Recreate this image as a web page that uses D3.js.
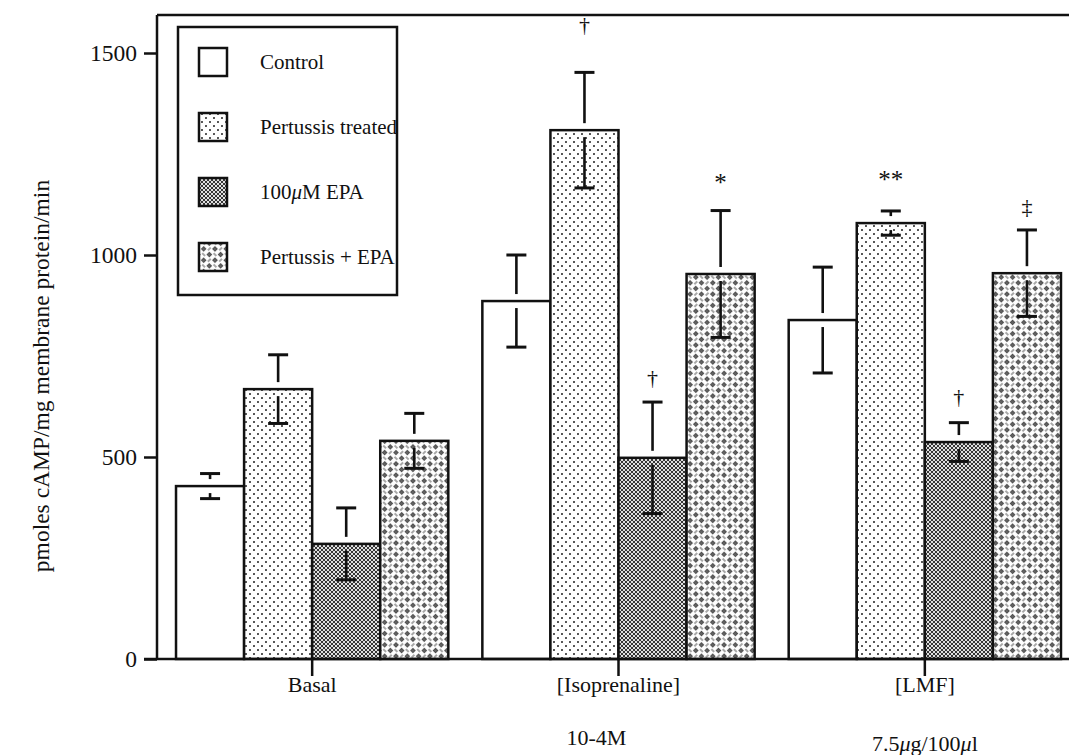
<!DOCTYPE html>
<html>
<head>
<meta charset="utf-8">
<script src="https://cdn.jsdelivr.net/npm/d3@7"></script>
<style>
  html, body { margin: 0; padding: 0; background: #fff; }
  svg { display: block; }
  text { font-family: "Liberation Serif", "Times New Roman", serif; fill: #111; }
</style>
</head>
<body>
<svg id="chart" width="1069" height="755"></svg>
<script>
// ---- data ----
const groups = ["Basal", "[Isoprenaline]", "[LMF]"];
const groupSub = ["", "10-4M", "7.5\u03bcg/100\u03bcl"];
const series = ["Control", "Pertussis treated", "100\u03bcM EPA", "Pertussis + EPA"];
const controlMean   = [428, 886, 839];
const pertussisMean = [668, 1309, 1079];
const epaMean       = [285, 498, 537];
const pertEpaMean   = [540, 953, 955];
const controlSE     = [31, 114, 131];
const pertussisSE   = [85, 143, 30];
const epaSE         = [89, 138, 48];
const pertEpaSE     = [68, 157, 107];
const yTicks = [0, 500, 1000, 1500];
const yLabel = "pmoles cAMP/mg membrane protein/min";
// significance marks: [group index, series index, symbol]
const marks = [
  [1, 1, "\u2020"], [1, 2, "\u2020"], [1, 3, "*"],
  [2, 1, "**"], [2, 2, "\u2020"], [2, 3, "\u2021"]
];

const means = [controlMean, pertussisMean, epaMean, pertEpaMean];
const ses = [controlSE, pertussisSE, epaSE, pertEpaSE];

const svg = d3.select("#chart");
const defs = svg.append("defs");

// dotted pattern (Pertussis treated)
const pDots = defs.append("pattern").attr("id", "dots")
  .attr("patternUnits", "userSpaceOnUse").attr("width", 8).attr("height", 8);
pDots.append("rect").attr("width", 8).attr("height", 8).attr("fill", "#fff");
pDots.append("circle").attr("cx", 2).attr("cy", 2).attr("r", 0.95).attr("fill", "#111");
pDots.append("circle").attr("cx", 6).attr("cy", 6).attr("r", 0.95).attr("fill", "#111");

// fine crosshatch (EPA)
const pHatch = defs.append("pattern").attr("id", "hatch")
  .attr("patternUnits", "userSpaceOnUse").attr("width", 4).attr("height", 4);
pHatch.append("rect").attr("width", 4).attr("height", 4).attr("fill", "#e0e0e0");
pHatch.append("path").attr("d", "M0,0 L4,4 M4,0 L0,4 M-1,3 L1,5 M3,-1 L5,1 M-1,1 L1,-1 M3,5 L5,3")
  .attr("stroke", "#222").attr("stroke-width", 0.9);

// basket weave (Pertussis + EPA)
const pWeave = defs.append("pattern").attr("id", "weave")
  .attr("patternUnits", "userSpaceOnUse").attr("width", 16).attr("height", 16)
  .attr("patternTransform", "rotate(45)");
pWeave.append("rect").attr("width", 16).attr("height", 16).attr("fill", "#fff");
[[0, 0], [8, 8]].forEach(([cx, cy]) => {
  pWeave.append("path").attr("d", `M${cx + 2},${cy + 4} L${cx + 6},${cy + 4}`)
    .attr("stroke", "#222").attr("stroke-width", 0.8);
});
[[8, 0], [0, 8]].forEach(([cx, cy]) => {
  pWeave.append("path").attr("d", `M${cx + 4},${cy + 2} L${cx + 4},${cy + 6}`)
    .attr("stroke", "#222").attr("stroke-width", 0.8);
});
[0, 8, 16].forEach(a => [0, 8, 16].forEach(b => {
  pWeave.append("rect").attr("x", a - 1.8).attr("y", b - 1.8).attr("width", 3.6).attr("height", 3.6)
    .attr("fill", "#4a4a4a").attr("stroke", "#333").attr("stroke-width", 0.5);
  pWeave.append("circle").attr("cx", a).attr("cy", b).attr("r", 0.6).attr("fill", "#bbb");
}));

const fills = ["#fff", "url(#dots)", "url(#hatch)", "url(#weave)"];

// ---- scales ----
const axisX = 157, axisY = 659, topY = 15;
const y = d3.scaleLinear().domain([0, 1500]).range([axisY, 53]);
const x0 = d3.scaleBand().domain(groups).range([159, 1078]).padding(0);
const x1 = d3.scaleBand().domain(series).range([0, x0.bandwidth()]).paddingInner(0).paddingOuter(0.25);

// ---- bars ----
const barData = [];
groups.forEach((g, gi) => series.forEach((s, si) => {
  barData.push({ g, gi, s, si, v: means[si][gi], e: ses[si][gi] });
}));

const gBars = svg.append("g");
gBars.selectAll("rect").data(barData).enter().append("rect")
  .attr("x", d => x0(d.g) + x1(d.s))
  .attr("y", d => y(d.v))
  .attr("width", x1.bandwidth())
  .attr("height", d => y(0) - y(d.v))
  .attr("fill", d => fills[d.si])
  .attr("stroke", "#111").attr("stroke-width", 2.5);

// ---- error bars ----
const gap = 7, capW = 20;
const gErr = svg.append("g").attr("stroke", "#111");
barData.forEach(d => {
  const cx = x0(d.g) + x1(d.s) + x1.bandwidth() / 2;
  const yt = y(d.v + d.e), yb = y(d.v - d.e), ym = y(d.v);
  if (ym - gap > yt) gErr.append("line").attr("x1", cx).attr("x2", cx).attr("y1", yt).attr("y2", ym - gap).attr("stroke-width", 2.6);
  if (ym + gap < yb) gErr.append("line").attr("x1", cx).attr("x2", cx).attr("y1", ym + gap).attr("y2", yb).attr("stroke-width", 2.6);
  gErr.append("line").attr("x1", cx - capW / 2).attr("x2", cx + capW / 2).attr("y1", yt).attr("y2", yt).attr("stroke-width", 3);
  gErr.append("line").attr("x1", cx - capW / 2).attr("x2", cx + capW / 2).attr("y1", yb).attr("y2", yb).attr("stroke-width", 3);
});

// ---- significance marks ----
const markLift = [40, 17, 20, 23, 19, 16];
svg.append("g").selectAll("text").data(marks).enter().append("text")
  .attr("x", d => x0(groups[d[0]]) + x1(series[d[1]]) + x1.bandwidth() / 2)
  .attr("y", (d, i) => y(means[d[1]][d[0]] + ses[d[1]][d[0]]) - markLift[i])
  .attr("text-anchor", "middle")
  .attr("font-size", d => d[2].indexOf("*") >= 0 ? 25 : 22)
  .attr("fill", "#000")
  .text(d => d[2]);

// ---- axes ----
const yAxis = d3.axisLeft(y).tickValues(yTicks).tickSize(13).tickPadding(7).tickFormat(d3.format("d"));
const gy = svg.append("g").attr("transform", `translate(${axisX},0)`).call(yAxis);
gy.select(".domain").remove();
gy.selectAll(".tick line").attr("stroke", "#111").attr("stroke-width", 2.5);
gy.selectAll(".tick text").attr("font-size", 23.5).attr("font-family", "Liberation Serif, serif").attr("fill", "#111");

const xAxis = d3.axisBottom(x0).tickSize(17).tickFormat("");
const gx = svg.append("g").attr("transform", `translate(0,${axisY})`).call(xAxis);
gx.select(".domain").remove();
gx.selectAll(".tick line").attr("stroke", "#111").attr("stroke-width", 2.5);

// axis lines and top frame
svg.append("line").attr("x1", axisX).attr("x2", axisX).attr("y1", topY).attr("y2", axisY + 1)
  .attr("stroke", "#111").attr("stroke-width", 2.5);
svg.append("line").attr("x1", axisX - 13).attr("x2", 1069).attr("y1", axisY).attr("y2", axisY)
  .attr("stroke", "#111").attr("stroke-width", 2.5);
svg.append("line").attr("x1", axisX).attr("x2", 1069).attr("y1", topY).attr("y2", topY)
  .attr("stroke", "#111").attr("stroke-width", 2.5);

// category labels
svg.append("g").selectAll("text").data(groups).enter().append("text")
  .attr("x", d => x0(d) + x0.bandwidth() / 2)
  .attr("y", 692)
  .attr("text-anchor", "middle").attr("font-size", 22)
  .text(d => d);
const subs = svg.append("g").selectAll("text").data(groupSub).enter().append("text")
  .attr("x", (d, i) => x0(groups[i]) + x0.bandwidth() / 2 - (i === 1 ? 22 : 0))
  .attr("y", (d, i) => i === 1 ? 745 : 751)
  .attr("text-anchor", "middle").attr("font-size", 22);
subs.each(function (d) {
  const t = d3.select(this);
  d.split(/(\u03bc)/).forEach(p => {
    if (!p) return;
    const ts = t.append("tspan").text(p);
    if (p === "\u03bc") ts.attr("font-style", "italic");
  });
});

// y label
svg.append("text")
  .attr("transform", "translate(49,376) rotate(-90)")
  .attr("text-anchor", "middle").attr("font-size", 23.5)
  .text(yLabel);

// ---- legend ----
const lg = svg.append("g");
lg.append("rect").attr("x", 178).attr("y", 27).attr("width", 219).attr("height", 268)
  .attr("fill", "#fff").attr("stroke", "#111").attr("stroke-width", 2.5);
const legY = d3.scalePoint().domain(series).range([62, 257]);
series.forEach((s, i) => {
  lg.append("rect").attr("x", 199).attr("y", legY(s) - 14).attr("width", 28).attr("height", 28)
    .attr("fill", fills[i]).attr("stroke", "#111").attr("stroke-width", 2.5);
  const t = lg.append("text").attr("x", 260).attr("y", legY(s) + 7).attr("font-size", 21);
  const parts = s.split("\u03bc");
  t.append("tspan").text(parts[0]);
  if (parts.length > 1) {
    t.append("tspan").attr("font-style", "italic").text("\u03bc");
    t.append("tspan").text(parts[1]);
  }
});
</script>
</body>
</html>
